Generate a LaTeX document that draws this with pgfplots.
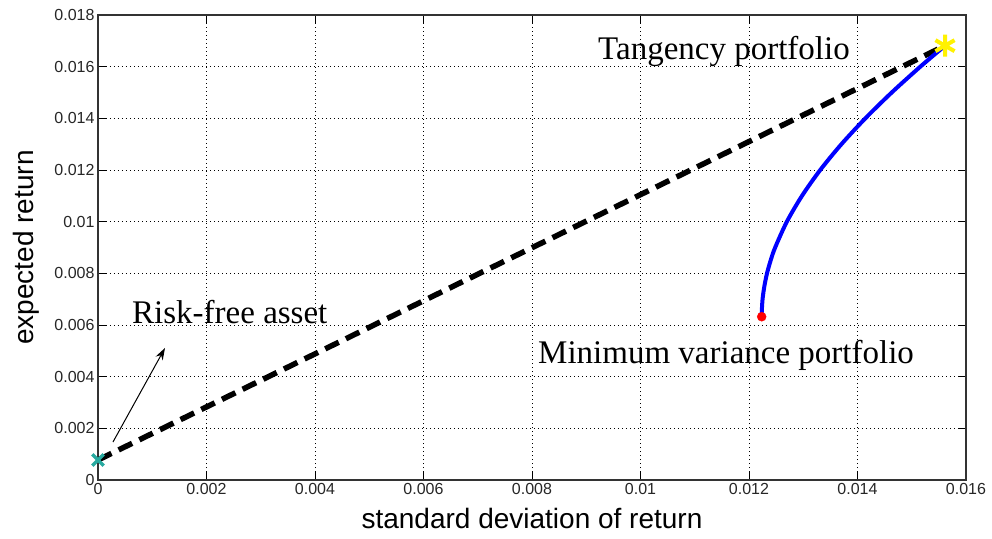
\documentclass[border=0pt]{standalone}
\usepackage{pgfplots}
\pgfplotsset{compat=1.18}
\usepackage{fontspec}
\setmainfont{Liberation Sans}
\newfontfamily\seriffont{Liberation Serif}
\usetikzlibrary{arrows.meta}
\definecolor{rfcol}{RGB}{40,170,160}
\begin{document}
\begin{tikzpicture}
\begin{axis}[
  width=868pt, height=465pt, scale only axis,
  xmin=0, xmax=0.016, ymin=0, ymax=0.018,
  xtick={0,0.002,0.004,0.006,0.008,0.01,0.012,0.014,0.016},
  xticklabels={0,0.002,0.004,0.006,0.008,0.01,0.012,0.014,0.016},
  ytick={0,0.002,0.004,0.006,0.008,0.01,0.012,0.014,0.016,0.018},
  yticklabels={0,0.002,0.004,0.006,0.008,0.01,0.012,0.014,0.016,0.018},
  scaled ticks=false,
  tick align=inside, tick pos=both, major tick length=8pt,
  tick style={black, line width=0.8pt},
  axis line style={black!80, line width=1.2pt},
  grid=major,
  major grid style={black, line width=0.8pt, dash pattern=on 1pt off 3pt},
  ticklabel style={font=\fontsize{16}{17}\selectfont, text=black!85},
  /pgf/number format/assume math mode=true,
  xlabel={standard deviation of return},
  ylabel={expected return},
  label style={font=\fontsize{28}{30}\selectfont},
  xlabel style={yshift=-6pt},
  ylabel style={yshift=8pt},
  clip=false,
]
\coordinate (O) at (rel axis cs:0,0);
% capital market line
\addplot[black, line width=5.5pt, dash pattern=on 15pt off 8pt] coordinates {(0,0.000774) (0.015613,0.016812)};
% efficient frontier
\addplot[blue, line width=4pt, smooth] coordinates {
 (0.012234,0.00632) (0.012235,0.0065) (0.012250,0.007) (0.012283,0.0075)
 (0.012332,0.008) (0.012399,0.0085) (0.012482,0.009) (0.012698,0.010)
 (0.012977,0.011) (0.013313,0.012) (0.013704,0.013) (0.014145,0.014)
 (0.014631,0.015) (0.015158,0.016) (0.015613,0.016812)};
% markers
\addplot[only marks, mark=x, mark size=8pt, rfcol, line width=3.5pt] coordinates {(0,0.000774)};
\addplot[only marks, mark=*, mark size=4.5pt, red] coordinates {(0.012234,0.00632)};
\addplot[only marks, mark=asterisk, mark size=11pt, yellow, line width=4pt] coordinates {(0.015613,0.016812)};
% annotations
\node[anchor=base west, inner sep=0pt, font=\seriffont\fontsize{33}{35}\selectfont] at (axis cs:0.009217,0.01626) {Tangency portfolio};
\node[anchor=base west, inner sep=0pt, font=\seriffont\fontsize{33}{35}\selectfont] at (axis cs:0.000627,0.006077) {Risk-free asset};
\node[anchor=base west, inner sep=0pt, font=\seriffont\fontsize{33}{35}\selectfont] at (axis cs:0.00811,0.004529) {Minimum variance portfolio};
\draw[-{Stealth[length=12pt,width=8pt]}, line width=1pt] (axis cs:0.000276,0.00147) -- (axis cs:0.001235,0.00511);
\end{axis}
\path[use as bounding box] ([shift={(-98pt,-58pt)}]O) rectangle ([shift={(894pt,480pt)}]O);
\end{tikzpicture}
\end{document}
